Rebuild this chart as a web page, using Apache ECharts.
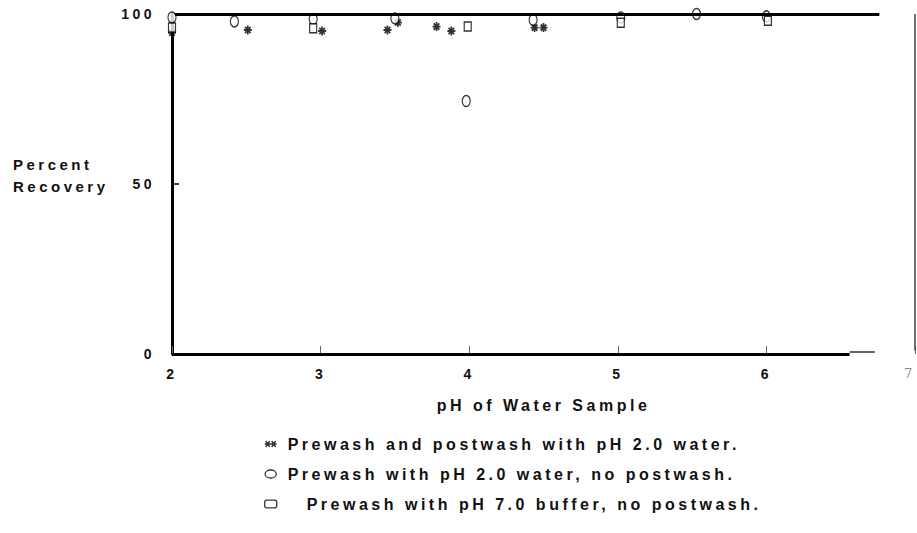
<!DOCTYPE html>
<html lang="en">
<head>
<meta charset="UTF-8">
<title>Percent Recovery vs pH of Water Sample</title>
<script src="https://cdn.jsdelivr.net/npm/echarts@6/dist/echarts.min.js"></script>
<style>
    html, body { margin: 0; padding: 0; background: #fff; }
    #chart { width: 917px; height: 533px; }
    /* the old figure is typeset with wide letter spacing */
    #chart text { letter-spacing: 3.5px; }
</style>
</head>
<body>

<div id="chart"></div>

<script>
    var seriesNames = [
        'Prewash and postwash with pH 2.0 water.',
        'Prewash with pH 2.0 water, no postwash.',
        'Prewash with pH 7.0 buffer, no postwash.'
    ];

    // asterisks: prewash and postwash with pH 2.0 water
    var bothPh  = [2.0, 2.51, 3.01, 3.45, 3.52, 3.78, 3.88, 4.44, 4.50];
    var bothRec = [94.5, 95.3, 95.0, 95.3, 97.5, 96.3, 95.0, 96.0, 96.0];

    // ovals: prewash with pH 2.0 water, no postwash
    var waterPh  = [2.0, 2.42, 2.95, 3.50, 3.98, 4.43, 5.02, 5.53, 6.00];
    var waterRec = [99.0, 97.8, 98.5, 98.7, 74.4, 98.3, 99.0, 100, 99.3];

    // boxes: prewash with pH 7.0 buffer, no postwash
    var bufferPh  = [2.0, 2.95, 3.99, 5.02, 6.01];
    var bufferRec = [96.0, 95.8, 96.3, 97.4, 98.0];

    function pairs(xs, ys) {
        return xs.map(function (x, i) { return [x, ys[i]]; });
    }

    var starPath = 'path://M0,5L10,5M5,0L5,10M1.5,1.5L8.5,8.5M8.5,1.5L1.5,8.5';
    var ovalPath = 'path://M5,0C7.8,0 10,3.1 10,7C10,10.9 7.8,14 5,14C2.2,14 0,10.9 0,7C0,3.1 2.2,0 5,0Z';
    var legendStar = 'path://M0,3L12,3M1,0L5,6M5,0L1,6M7,0L11,6M11,0L7,6';
    var legendOval = 'path://M7,0C10.9,0 14,2.2 14,5C14,7.8 10.9,10 7,10C3.1,10 0,7.8 0,5C0,2.2 3.1,0 7,0Z';
    var legendBox = 'path://M2,0L9,0Q11,0 11,2L11,5Q11,7 9,7L2,7Q0,7 0,5L0,2Q0,0 2,0Z';

    var hollow = { color: '#fff', borderColor: '#000', borderWidth: 1.3 };

    var myChart = echarts.init(document.getElementById('chart'), null, { renderer: 'svg' });

    var option = {
        animation: false,
        backgroundColor: '#fff',
        textStyle: { fontFamily: 'Liberation Sans, Arial, sans-serif' },
        grid: { left: 172, right: 2, top: 14, bottom: 179, outerBoundsMode: 'none' },
        graphic: [{
            type: 'text',
            left: 13,
            top: 153,
            style: {
                text: 'Percent\nRecovery',
                fontFamily: 'Liberation Sans, Arial, sans-serif',
                fontWeight: 'bold',
                fontSize: 15,
                lineHeight: 22,
                fill: '#111'
            }
        }],
        legend: {
            orient: 'vertical',
            left: 259,
            top: 431,
            itemWidth: 12,
            itemHeight: 8,
            itemGap: 14,
            selectedMode: false,
            textStyle: { fontWeight: 'bold', fontSize: 16, color: '#111' },
            data: [
                { name: seriesNames[0], icon: legendStar, itemStyle: { color: '#000', borderColor: '#000', borderWidth: 1.4 },
                  textStyle: { padding: [0, 0, 0, 6] } },
                { name: seriesNames[1], icon: legendOval, itemStyle: hollow,
                  textStyle: { padding: [0, 0, 0, 6] } },
                { name: seriesNames[2], icon: legendBox, itemStyle: hollow,
                  textStyle: { padding: [0, 0, 0, 25] } }
            ]
        },
        xAxis: {
            type: 'value',
            min: 2,
            max: 7,
            interval: 1,
            name: 'pH of Water Sample',
            nameLocation: 'middle',
            nameGap: 43,
            nameTextStyle: { fontWeight: 'bold', fontSize: 16, color: '#111' },
            axisLine: { show: false },
            axisTick: { inside: true, length: 8, lineStyle: { color: '#666', width: 1 } },
            splitLine: { show: false },
            axisLabel: {
                margin: 13,
                fontWeight: 'bold',
                fontSize: 14,
                color: '#111',
                formatter: function (v) { return v === 7 ? '{thin|7}' : v; },
                rich: { thin: { fontWeight: 'normal', fontSize: 13, color: '#888', fontFamily: 'DejaVu Serif', padding: [0, 10, 0, 0] } }
            }
        },
        yAxis: {
            type: 'value',
            min: 0,
            max: 100,
            interval: 50,
            axisLine: { show: true, lineStyle: { color: '#000', width: 3 } },
            axisTick: { inside: true, length: 7, lineStyle: { color: '#000', width: 1.5 } },
            splitLine: { show: false },
            axisLabel: { margin: 17, fontWeight: 'bold', fontSize: 14, color: '#111' }
        },
        series: [
            {
                name: seriesNames[0],
                type: 'scatter',
                symbol: starPath,
                symbolSize: [8, 9],
                itemStyle: { color: '#000', borderColor: '#000', borderWidth: 1.8 },
                data: pairs(bothPh, bothRec),
                // frame of the original figure: heavy top and bottom rules, thin right edge
                markLine: {
                    silent: true,
                    symbol: 'none',
                    label: { show: false },
                    lineStyle: { color: '#000', type: 'solid', width: 3 },
                    data: [
                        [{ coord: [2, 0] }, { coord: [6.56, 0] }],
                        [{ coord: [6.56, 0.8], lineStyle: { width: 1.5, color: '#333' } }, { coord: [6.73, 0.8] }],
                        [{ coord: [2.02, 100] }, { coord: [6.76, 100] }],
                        [{ coord: [7, 1], lineStyle: { width: 1.5, color: '#444' } }, { coord: [7, 100] }]
                    ]
                }
            },
            {
                name: seriesNames[1],
                type: 'scatter',
                symbol: ovalPath,
                symbolSize: [8, 11],
                itemStyle: hollow,
                data: pairs(waterPh, waterRec)
            },
            {
                name: seriesNames[2],
                type: 'scatter',
                symbol: 'rect',
                symbolSize: [7, 9],
                itemStyle: hollow,
                data: pairs(bufferPh, bufferRec)
            }
        ]
    };

    myChart.setOption(option);
</script>

</body>
</html>
